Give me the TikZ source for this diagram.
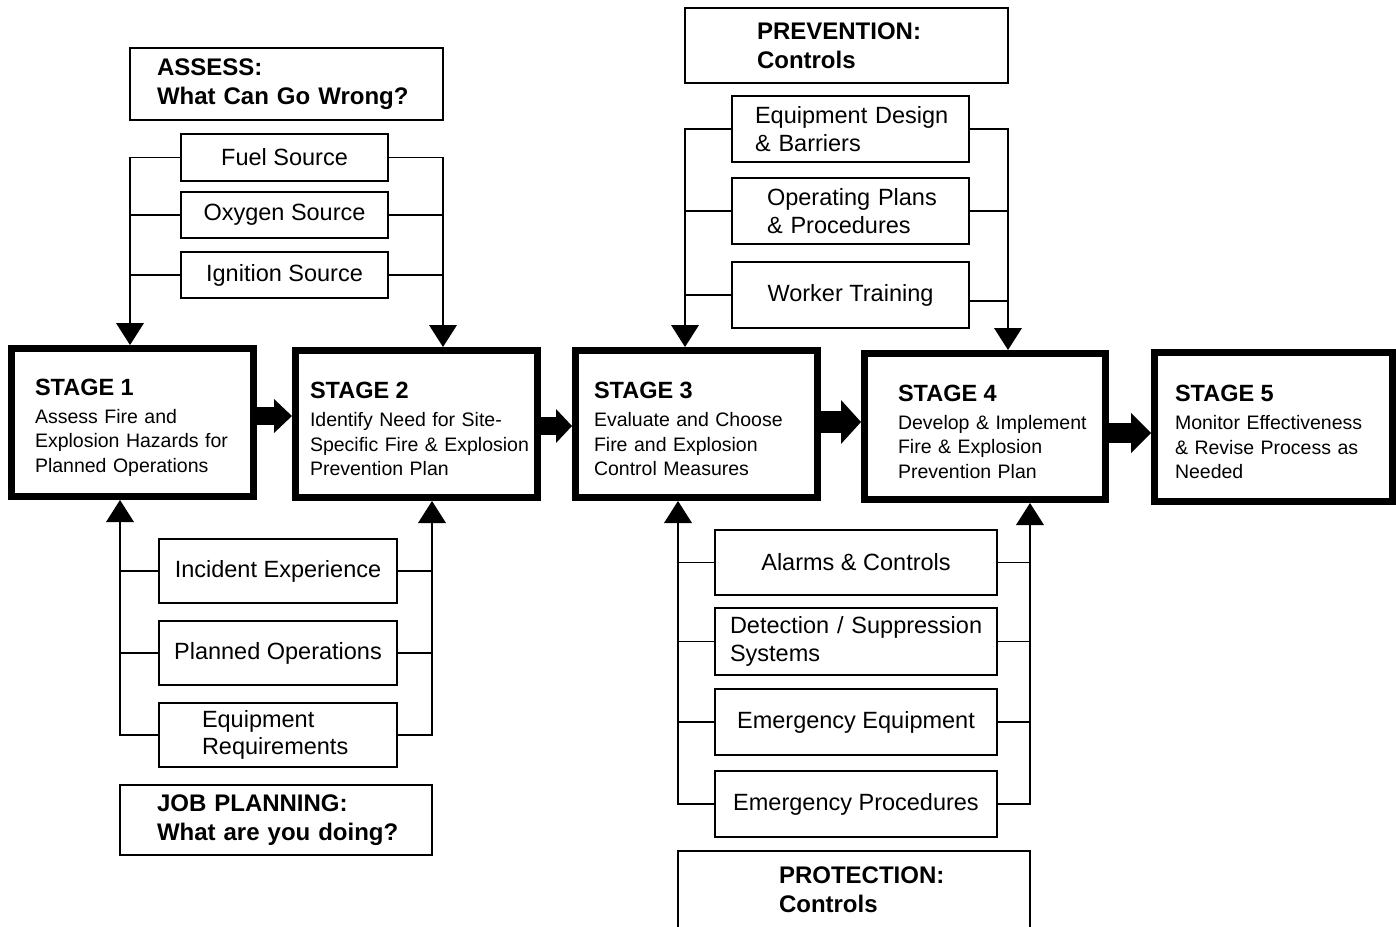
\documentclass[tikz,border=0pt]{standalone}
\usepackage{fontspec}
\setmainfont{Liberation Sans}
\usetikzlibrary{arrows.meta}
\newcommand{\stgtitle}[1]{{\fontsize{23.5}{24.5}\selectfont\bfseries\rule{0pt}{27pt}#1}}
\tikzset{
  box/.style={draw, line width=1.3pt, inner ysep=0pt, inner xsep=0pt, font=\fontsize{23.5}{27.5}\selectfont},
  cbox/.style={box, align=center},
  lbox/.style={box, align=left},
  hdr/.style={draw, line width=1.3pt, inner ysep=0pt, align=left, font=\fontsize{24}{29}\selectfont\bfseries},
  stg/.style={draw, line width=7pt, inner ysep=0pt, align=left, font=\fontsize{19.5}{24.5}\selectfont},
  bus/.style={line width=1.5pt},
  busarrow/.style={bus, -{Triangle[length=22pt,width=28pt,line width=0pt]}},
  big/.style n args={3}{line width=#1, -{Triangle[length=#2,width=#3,line width=0pt]}}
}
\begin{document}
\begin{tikzpicture}[x=1pt,y=-1pt]
\fill[white] (0,0) rectangle (1396,926);
\useasboundingbox (0,0) rectangle (1396,926);

% header boxes
\node[hdr, minimum width=313pt, minimum height=72pt, inner xsep=27pt, text width=259pt] (assess) at (286.5,84) {\mbox{ASSESS:}\\\mbox{What Can Go Wrong?}};
\node[hdr, minimum width=323pt, minimum height=75pt, inner xsep=72pt, text width=179pt] (prevention) at (846.5,45.5) {\mbox{PREVENTION:}\\\mbox{Controls}};
\node[hdr, minimum width=312pt, minimum height=70pt, inner xsep=37pt, text width=238pt] (jobplan) at (276,820) {\mbox{JOB PLANNING:}\\\mbox{What are you doing?}};
\node[hdr, minimum width=352pt, minimum height=77pt, inner xsep=101pt, text width=150pt] (protection) at (854,889.5) {\mbox{PROTECTION:}\\\mbox{Controls}};

% assess sources
\node[cbox, minimum width=207pt, minimum height=47pt] (fuel) at (284.5,157.5) {Fuel Source};
\node[cbox, minimum width=207pt, minimum height=46pt] (oxygen) at (284.5,215) {Oxygen Source};
\node[cbox, minimum width=207pt, minimum height=46pt] (ignition) at (284.5,275) {Ignition Source};

% job planning inputs
\node[cbox, minimum width=238pt, minimum height=64pt] (incident) at (278,571) {Incident Experience};
\node[cbox, minimum width=238pt, minimum height=64pt] (planned) at (278,653) {Planned Operations};
\node[lbox, minimum width=238pt, minimum height=64pt, inner xsep=43pt, text width=152pt] (equipreq) at (278,735) {\mbox{Equipment}\\\mbox{Requirements}};

% prevention controls
\node[lbox, minimum width=237pt, minimum height=66pt, inner xsep=23pt, text width=191pt] (eqdesign) at (850.5,129) {\mbox{Equipment Design}\\\mbox{\& Barriers}};
\node[lbox, minimum width=237pt, minimum height=66pt, inner xsep=35pt, text width=167pt] (opplans) at (850.5,211) {\mbox{Operating Plans}\\\mbox{\& Procedures}};
\node[cbox, minimum width=237pt, minimum height=66pt] (worker) at (850.5,295) {Worker Training};

% protection controls
\node[cbox, minimum width=282pt, minimum height=65pt] (alarms) at (856,562.5) {Alarms \& Controls};
\node[lbox, minimum width=282pt, minimum height=67pt, inner xsep=15pt, text width=252pt] (detection) at (856,641.5) {\mbox{Detection / Suppression}\\\mbox{Systems}};
\node[cbox, minimum width=282pt, minimum height=66pt] (emequip) at (856,722) {Emergency Equipment};
\node[cbox, minimum width=282pt, minimum height=66pt] (emproc) at (856,804) {Emergency Procedures};

% stages
\node[stg, minimum width=242pt, minimum height=148pt, inner xsep=23.5pt, text width=195pt] (s1) at (132.5,422.5) {\stgtitle{STAGE 1}\\[3.5pt]\mbox{Assess Fire and}\\\mbox{Explosion Hazards for}\\\mbox{Planned Operations}};
\node[stg, minimum width=242pt, minimum height=147pt, inner xsep=14.5pt, text width=213pt] (s2) at (416.5,424) {\stgtitle{STAGE 2}\\[3.5pt]\mbox{Identify Need for Site-}\\\mbox{Specific Fire \& Explosion}\\\mbox{Prevention Plan}};
\node[stg, minimum width=242pt, minimum height=147pt, inner xsep=18.5pt, text width=205pt] (s3) at (696.5,424) {\stgtitle{STAGE 3}\\[3.5pt]\mbox{Evaluate and Choose}\\\mbox{Fire and Explosion}\\\mbox{Control Measures}};
\node[stg, minimum width=241pt, minimum height=146pt, inner xsep=33.5pt, text width=174pt] (s4) at (985,426.5) {\stgtitle{STAGE 4}\\[3.5pt]\mbox{Develop \& Implement}\\\mbox{Fire \& Explosion}\\\mbox{Prevention Plan}};
\node[stg, minimum width=238pt, minimum height=149pt, inner xsep=20.5pt, text width=197pt] (s5) at (1273.5,427) {\stgtitle{STAGE 5}\\[3.5pt]\mbox{Monitor Effectiveness}\\\mbox{\& Revise Process as}\\\mbox{Needed}};

% bus x positions
\coordinate (bA) at (130,0);
\coordinate (bB) at (443,0);
\coordinate (bC) at (120,0);
\coordinate (bD) at (432,0);
\coordinate (bE) at (685,0);
\coordinate (bF) at (1008,0);
\coordinate (bG) at (678,0);
\coordinate (bH) at (1030,0);

% assess buses
\draw[busarrow] (fuel.west) -| (bA |- s1.north);
\draw[bus] (oxygen.west) -- (oxygen.west -| bA);
\draw[bus] (ignition.west) -- (ignition.west -| bA);
\draw[busarrow] (fuel.east) -| (bB |- s2.north);
\draw[bus] (oxygen.east) -- (oxygen.east -| bB);
\draw[bus] (ignition.east) -- (ignition.east -| bB);

% job planning buses
\draw[busarrow] (equipreq.west) -| (bC |- s1.south);
\draw[bus] (incident.west) -- (incident.west -| bC);
\draw[bus] (planned.west) -- (planned.west -| bC);
\draw[busarrow] (equipreq.east) -| (bD |- s2.south);
\draw[bus] (incident.east) -- (incident.east -| bD);
\draw[bus] (planned.east) -- (planned.east -| bD);

% prevention buses
\draw[busarrow] (eqdesign.west) -| (bE |- s3.north);
\draw[bus] (opplans.west) -- (opplans.west -| bE);
\draw[bus] (worker.west) -- (worker.west -| bE);
\draw[busarrow] (eqdesign.east) -| (bF |- s4.north);
\draw[bus] (opplans.east) -- (opplans.east -| bF);
\draw[bus] ([yshift=-6pt]worker.east) -- ([yshift=-6pt]worker.east -| bF);

% protection buses
\draw[busarrow] (emproc.west) -| (bG |- s3.south);
\draw[bus] (alarms.west) -- (alarms.west -| bG);
\draw[bus] (detection.west) -- (detection.west -| bG);
\draw[bus] (emequip.west) -- (emequip.west -| bG);
\draw[busarrow] (emproc.east) -| (bH |- s4.south);
\draw[bus] (alarms.east) -- (alarms.east -| bH);
\draw[bus] (detection.east) -- (detection.east -| bH);
\draw[bus] (emequip.east) -- (emequip.east -| bH);

% stage arrows
\coordinate (y12) at (0,416);
\coordinate (y23) at (0,426);
\coordinate (y34) at (0,422);
\coordinate (y45) at (0,433);
\draw[big={18pt}{18pt}{34pt}] (s1.east |- y12) -- (s2.west |- y12);
\draw[big={18pt}{16pt}{34pt}] (s2.east |- y23) -- (s3.west |- y23);
\draw[big={22pt}{20pt}{44pt}] (s3.east |- y34) -- (s4.west |- y34);
\draw[big={20pt}{20pt}{40pt}] (s4.east |- y45) -- (s5.west |- y45);
\end{tikzpicture}
\end{document}
